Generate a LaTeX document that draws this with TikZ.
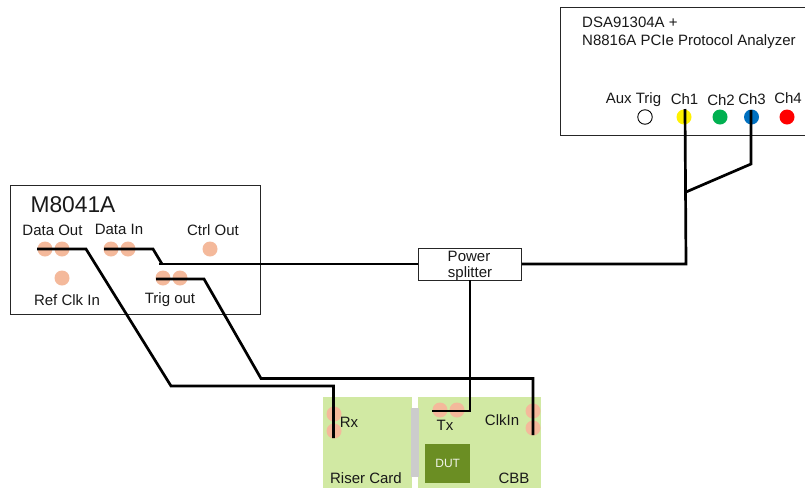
\documentclass[tikz,border=0pt]{standalone}
\usepackage{fontspec}
\setmainfont{Liberation Sans}
\definecolor{peach}{HTML}{F4B99B}
\definecolor{boardgreen}{HTML}{D1E9A3}
\definecolor{dutgreen}{HTML}{6B8E23}
\definecolor{chgreen}{HTML}{00B050}
\definecolor{chblue}{HTML}{0070C0}
\begin{document}
\begin{tikzpicture}[x=1pt,y=-1pt,
  txt/.style={inner sep=0pt,font=\fontsize{15}{17}\selectfont,text=black!90},
  instr/.style={draw=black!85,line width=0.9pt,fill=white},
  port/.style={circle,fill=#1,inner sep=0pt,minimum size=15pt},
  port/.default=peach,
  wire/.style={draw=black,line width=2.7pt,line join=miter},
  board/.style={fill=boardgreen}]
\useasboundingbox (0,0) rectangle (805,488);
\fill[white] (0,0) rectangle (805,488);
% instruments
\node[instr,anchor=north west,minimum width=250.5pt,minimum height=129pt,inner sep=0pt] (gen) at (9.5,184.5) {};
\draw[instr,fill=white] (805,7) -- (560,7) -- (560,135) -- (805,135);
% boards
\node[board,anchor=north west,minimum width=89pt,minimum height=91pt,inner sep=0pt] (riser) at (323,397) {};
\node[board,anchor=north west,minimum width=123pt,minimum height=91pt,inner sep=0pt] (cbb) at (418,397) {};
\node[fill=black!20,anchor=north west,minimum width=8pt,minimum height=69pt,inner sep=0pt] (link) at (411,408) {};
\node[fill=dutgreen,anchor=north west,minimum width=45pt,minimum height=39pt,inner sep=0pt,text=white!90!dutgreen,font=\fontsize{12}{14}\selectfont] (dut) at (425,444) {DUT};
% ports
\node[port] (dout1) at (45,249) {};
\node[port] (dout2) at (62,249) {};
\node[port] (din1) at (111,249) {};
\node[port] (din2) at (128,249) {};
\node[port] (ctrl) at (210,249) {};
\node[port] (ref) at (62,278) {};
\node[port] (trig1) at (163,278) {};
\node[port] (trig2) at (180,278) {};
\node[port] (rx1) at (334,414) {};
\node[port] (rx2) at (334,431) {};
\node[port] (tx1) at (440,410) {};
\node[port] (tx2) at (457,410) {};
\node[port] (clk1) at (533,411) {};
\node[port] (clk2) at (533,428) {};
\node[circle,draw=black,fill=white,line width=0.9pt,inner sep=0pt,minimum size=14.5pt] (aux) at (645,117) {};
\node[port=yellow] (ch1) at (684,117) {};
\node[port=chgreen] (ch2) at (720,117) {};
\node[port=chblue] (ch3) at (751.5,117) {};
\node[port=red] (ch4) at (787,117) {};
% splitter
\node[draw=black!85,line width=0.9pt,fill=white,anchor=north west,minimum width=103pt,minimum height=32pt,inner sep=0pt] (split) at (418,248) {};
% wire ends
\coordinate (doutS) at (37,249);
\coordinate (dinS) at (104,249);
\coordinate (dinJ) at (159,264);
\coordinate (trigS) at (156,279);
\coordinate (rxE) at (333.5,438);
\coordinate (clkE) at (533,435);
\coordinate (txE) at (432,411);
\coordinate (ch1T) at (685,109);
\coordinate (ch3T) at (751,110);
\coordinate (join) at (686,192);
\coordinate (splitS) at (470,280);
% wires
\draw[wire] (doutS) -- (86,249) -- (171,386) -- (333.5,386) -- (rxE);
\draw[wire] (dinS) -- (153,249) -- (162,264);
\draw[wire] (dinJ) -- (split.west |- dinJ);
\draw[wire] (trigS) -- (204,279) -- (261,378.5) -- (533,378.5) -- (clkE);
\draw[wire] (split.east |- dinJ) -- (686,264) -- (ch1T);
\draw[wire] (ch3T) -- (751,164) -- (join);
\draw[wire] (splitS) -- (470,411) -- (txE);
% labels
\node[txt,font=\fontsize{22.8}{25}\selectfont] (l1) at (73,205) {M8041A};
\node[txt] (l2) at (52.5,230) {Data Out};
\node[txt] (l3) at (119,229) {Data In};
\node[txt] (l4) at (213,230) {Ctrl Out};
\node[txt] (l5) at (67,300) {Ref Clk In};
\node[txt] (l6) at (170,300) {Trig out};
\node[txt] (l7) at (469,256) {Power};
\node[txt] (l8) at (470,274) {splitter};
\node[txt,anchor=base west] (l9) at (582,27) {DSA91304A +};
\node[txt,anchor=base west] (l10) at (582,45) {N8816A PCIe Protocol Analyzer};
\node[txt] (l11) at (633.5,100) {Aux Trig};
\node[txt] (l12) at (684.5,99) {Ch1};
\node[txt] (l13) at (721,100) {Ch2};
\node[txt] (l14) at (752,99) {Ch3};
\node[txt] (l15) at (788,98) {Ch4};
\node[txt] (l16) at (349,422) {Rx};
\node[txt] (l17) at (445,425) {Tx};
\node[txt] (l18) at (502,420) {ClkIn};
\node[txt] (l19) at (366,478) {Riser Card};
\node[txt] (l20) at (514,478) {CBB};
\end{tikzpicture}
\end{document}
